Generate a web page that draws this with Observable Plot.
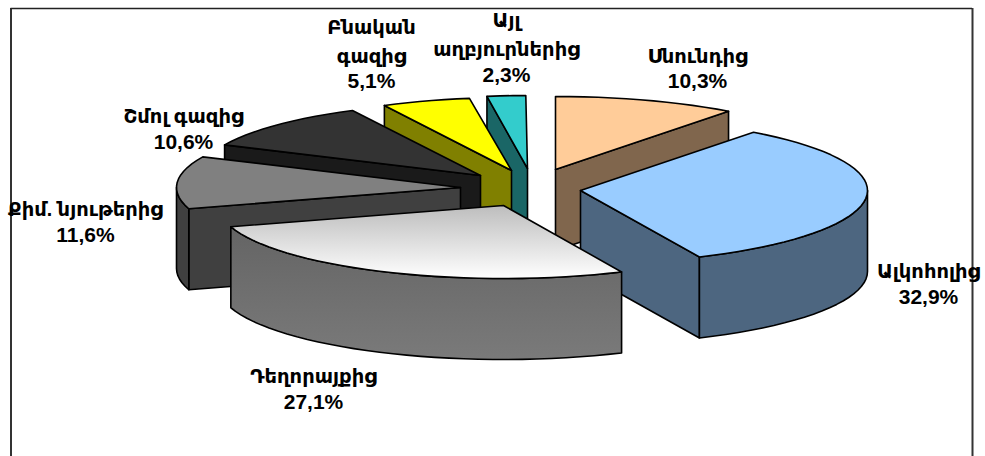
<!DOCTYPE html>
<html>
<head>
<meta charset="utf-8">
<script src="https://cdn.jsdelivr.net/npm/d3@7"></script>
<script src="https://cdn.jsdelivr.net/npm/@observablehq/plot@0.6"></script>
<style>
html,body{margin:0;padding:0;background:#fff}
svg{display:block}
</style>
</head>
<body>
<div id="chart"></div>
<script>
// Data, clockwise from the top of the pie
const names = ["Սնունդից", "Ալկոհոլից", "Դեղորայքից", "Քիմ. նյութերից", "Շմոլ գազից", "Բնական\nգազից", "Այլ\nաղբյուրներից"];
const shares = [10.3, 32.9, 27.1, 11.6, 10.6, 5.1, 2.3];
const valueLabels = ["10,3%", "32,9%", "27,1%", "11,6%", "10,6%", "5,1%", "2,3%"];

// Colours
const topColors = ["#FFCC99", "#99CCFF", "url(#dehTop)", "#808080", "#333333", "#FFFF00", "#33CCCC"];
const sideColors = ["#80664D", "#4D6680", "url(#dehSide)", "#404040", "#1A1A1A", "#808000", "#1A6666"];

// Layout: exploded position of each wedge's apex, label anchors, paint order
const apexX = [555, 580, 503, 460, 480, 511, 527];
const apexY = [169, 190, 205, 187, 175, 170, 168];
const radiiX = [287, 287, 285, 284, 282, 280, 270];
const labelX = [697, 928, 313, 85, 183, 371, 506];
const nameY = [55, 270, 375, 208, 115, 55, 48];
const valueY = [81, 297, 402, 235, 142, 81, 75];
const paintOrder = [6, 5, 4, 0, 3, 1, 2];
const radiusY = 73, depth = 81;

const rad = d => d * Math.PI / 180;
const bounds = d3.cumsum(shares).map(v => v * 3.6);
const wedge = shares.map((s, i) => ({start: i ? bounds[i - 1] : 0, end: bounds[i]}));

function arc(i, from, to, drop = 0) {
  const n = Math.max(2, Math.ceil((to - from) / 3));
  return d3.range(n + 1).map(k => {
    const t = rad(from + (to - from) * k / n);
    return [apexX[i] + radiiX[i] * Math.sin(t), apexY[i] - radiusY * Math.cos(t) + drop];
  });
}
function cutFace(i, angle) {
  const p = arc(i, angle, angle + 1e-6)[0];
  return [[apexX[i], apexY[i]], p, [p[0], p[1] + depth], [apexX[i], apexY[i] + depth]];
}

const poly = (points, fill) => Plot.line(points, {
  x: d => d[0], y: d => d[1], curve: "linear-closed",
  fill, stroke: "#000", strokeWidth: 1.6, strokeLinejoin: "round"
});

const sliceMarks = paintOrder.flatMap(i => {
  const {start, end} = wedge[i];
  const out = [];
  if (Math.sin(rad(start)) < -1e-6) out.push(poly(cutFace(i, start), sideColors[i]));
  if (Math.sin(rad(end)) > 1e-6) out.push(poly(cutFace(i, end), sideColors[i]));
  const a = Math.max(start, 90), b = Math.min(end, 270);
  if (b > a) out.push(poly([...arc(i, a, b), ...arc(i, a, b, depth).reverse()], sideColors[i]));
  out.push(poly([[apexX[i], apexY[i]], ...arc(i, start, end)], topColors[i]));
  return out;
});

const defs = () => {
  const d = d3.create("svg:defs");
  const grad = (id, from, to) => {
    const g = d.append("linearGradient").attr("id", id)
      .attr("x1", 0).attr("y1", 0).attr("x2", 0).attr("y2", 1);
    g.append("stop").attr("offset", "0%").attr("stop-color", from);
    g.append("stop").attr("offset", "100%").attr("stop-color", to);
  };
  grad("dehTop", "#BDBDBD", "#FFFFFF");
  grad("dehSide", "#646464", "#7A7A7A");
  return d.node();
};

const labels = names.map((n, i) => ({name: n, value: valueLabels[i], x: labelX[i], ny: nameY[i], vy: valueY[i]}));
const font = "'Liberation Sans','DejaVu Sans',sans-serif";

const plot = Plot.plot({
  width: 985, height: 456, margin: 0,
  style: {background: "#fff", overflow: "hidden"},
  x: {domain: [0, 985], range: [0, 985], axis: null},
  y: {domain: [0, 456], range: [0, 456], axis: null},
  marks: [
    defs,
    Plot.ruleX([10.5, 972], {y1: 8, y2: 456, stroke: "#333", strokeWidth: 2}),
    Plot.ruleY([8], {x1: 10.5, x2: 972, stroke: "#222", strokeWidth: 1.5}),
    ...sliceMarks,
    Plot.text(labels, {
      x: "x", y: d => d.ny + 7, text: "name", textAnchor: "middle", lineAnchor: "bottom",
      lineHeight: 1.46, fontSize: 19.5, fontWeight: "bold", fontFamily: font, fill: "#000"
    }),
    Plot.text(labels, {
      x: "x", y: "vy", text: "value", textAnchor: "middle", lineAnchor: "middle",
      fontSize: 21, fontWeight: "bold", fontFamily: font, fill: "#000"
    })
  ]
});
document.getElementById("chart").append(plot);
</script>
</body>
</html>
